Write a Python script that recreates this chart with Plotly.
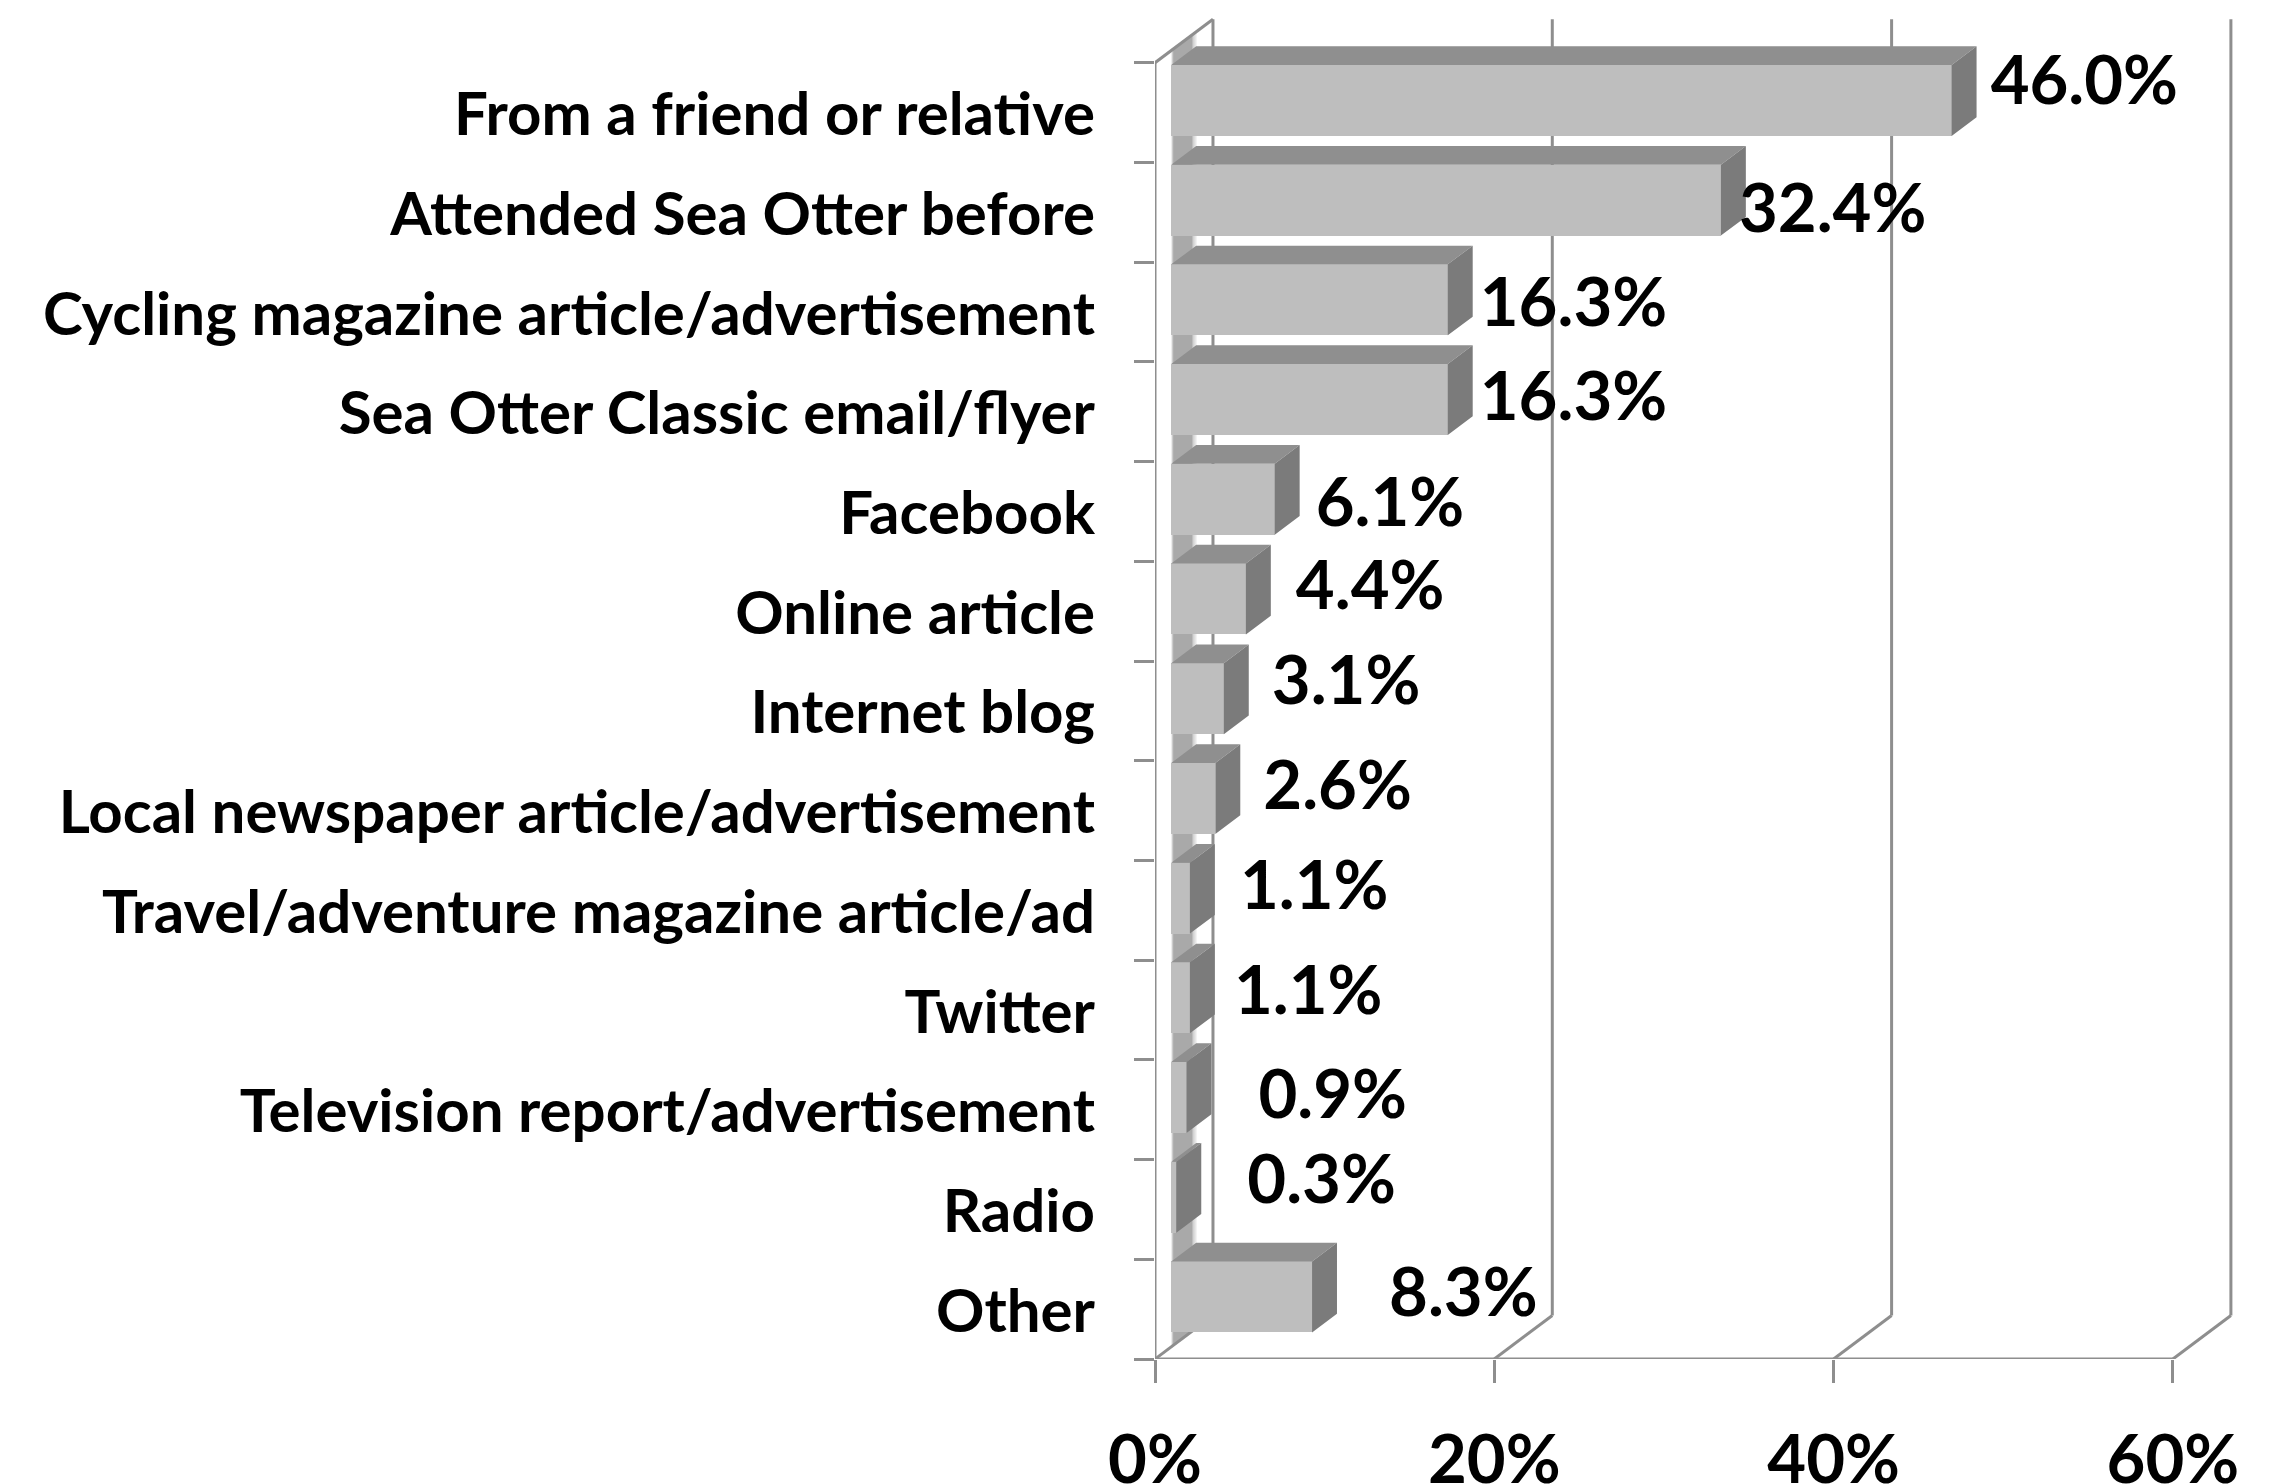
import plotly.graph_objects as go

categories = [
    "From a friend or relative", "Attended Sea Otter before",
    "Cycling magazine article/advertisement", "Sea Otter Classic email/flyer",
    "Facebook", "Online article", "Internet blog",
    "Local newspaper article/advertisement",
    "Travel/adventure magazine article/ad", "Twitter",
    "Television report/advertisement", "Radio", "Other",
]
values = [46.0, 32.4, 16.3, 16.3, 6.1, 4.4, 3.1, 2.6, 1.1, 1.1, 0.9, 0.3, 8.3]
x_ticks = [0, 20, 40, 60]

# Hand-placed value labels: pixel shift from the bar end and from the band centre
label_shift_x = [39, 18, 32, 32, 41, 50, 48, 48, 50, 44, 72, 71, 77]
label_shift_y = [-25, 3, -3, -8, -2, -19, -24, -18, -18, -13, -8, -23, -10]

FONT = "Lato"
LABEL_SIZE = 60
VALUE_SIZE = 67
LINE = "#8e8e8e"
FRONT, TOP, SIDE = "#bebebe", "#8f8f8f", "#7b7b7b"

# Plot frame in pixels and the scale of each axis
LEFT, FLOOR, RIGHT, UPPER = 1154.7, 1359.5, 2240, 10
PX_PCT, PX_BAND = 16.97, 99.75

# Oblique depth vector of the pseudo-3D box, in axis units
DX, DY = 58 / PX_PCT, 43.5 / PX_BAND
D0, D1 = 0.28, 0.71          # front and back of the bars along the depth
BAR_H = 71 / PX_BAND
n = len(categories)


def pt(v, b, d=0.0):
    """Project a value/band position at depth d onto the plane of the axes."""
    return v + d * DX, b - d * DY


def path(points):
    return "M" + " L".join(f"{x:.4f},{y:.4f}" for x, y in points) + " Z"


shapes = []


def wall_line(a, b):
    shapes.append(dict(type="line", layer="below", xref="x", yref="y",
                       x0=a[0], y0=a[1], x1=b[0], y1=b[1],
                       line=dict(color=LINE, width=3)))


# Soft grey strip where the bars meet the back wall
strip_steps = [
    (0.280, 0.290, "#ececec"), (0.290, 0.300, "#cfcfcf"), (0.300, 0.312, "#b6b6b6"),
    (0.312, 0.640, "#a9a9a9"), (0.640, 0.665, "#b8b8b8"), (0.665, 0.685, "#cdcdcd"),
    (0.685, 0.705, "#e2e2e2"), (0.705, 0.725, "#f3f3f3"),
]
for d0, d1, colour in strip_steps:
    poly = [pt(0, 0, d0), pt(0, 0, d1), pt(0, n, d1), pt(0, n, d0)]
    shapes.append(dict(type="path", layer="below", xref="x", yref="y", path=path(poly),
                       fillcolor=colour, line=dict(width=0)))

# Box frame: front edges, floor diagonals and gridlines on the back wall
wall_line(pt(0, n), pt(0, 0))
wall_line(pt(0, n), pt(x_ticks[-1], n))
wall_line(pt(0, 0), pt(0, 0, 1))
for t in x_ticks:
    wall_line(pt(t, n), pt(t, n, 1))
    wall_line(pt(t, n, 1), (pt(t, 0, 1)[0], pt(0, 0, 1)[1]))

band_centres = [i + 0.5 for i in range(n)]
band_edges = list(range(n + 1))
front_centres = [c - D0 * DY for c in band_centres]
# Category text sits a touch below the middle of its band
label_rows = [c + 1.5 / PX_BAND for c in band_centres]

fig = go.Figure()

# Front faces
fig.add_trace(go.Bar(
    orientation="h", x=values, y=front_centres, base=D0 * DX, width=BAR_H,
    marker=dict(color=FRONT, line=dict(width=0)), hoverinfo="skip", showlegend=False,
))


def face_trace(polys, colour):
    xs, ys = [], []
    for poly in polys:
        xs += [p[0] for p in poly] + [poly[0][0], None]
        ys += [p[1] for p in poly] + [poly[0][1], None]
    return go.Scatter(x=xs, y=ys, mode="lines", fill="toself", fillcolor=colour,
                      line=dict(width=0), hoverinfo="skip", showlegend=False)


# Top and end faces of every bar
tops, sides = [], []
for centre, v in zip(band_centres, values):
    upper, lower = centre - BAR_H / 2, centre + BAR_H / 2
    tops.append([pt(0, upper, D0), pt(v, upper, D0), pt(v, upper, D1), pt(0, upper, D1)])
    sides.append([pt(v, upper, D0), pt(v, lower, D0), pt(v, lower, D1), pt(v, upper, D1)])
fig.add_trace(face_trace(tops, TOP))
fig.add_trace(face_trace(sides, SIDE))

# Value labels
fig.add_trace(go.Scatter(
    x=[v + D0 * DX + dx / PX_PCT for v, dx in zip(values, label_shift_x)],
    y=[c + dy / PX_BAND for c, dy in zip(band_centres, label_shift_y)],
    mode="text", text=[f"{v:.1f}%" for v in values], textposition="middle right",
    textfont=dict(family=FONT, size=VALUE_SIZE, color="#000000", weight="bold"),
    hoverinfo="skip", showlegend=False, cliponaxis=False,
))

fig.update_layout(
    width=2295, height=1484, autosize=False,
    paper_bgcolor="#ffffff", plot_bgcolor="#ffffff",
    margin=dict(l=LEFT, r=2295 - RIGHT, t=UPPER, b=1484 - FLOOR, pad=0),
    bargap=0, shapes=shapes, showlegend=False,
    xaxis=dict(
        range=[0, (RIGHT - LEFT) / PX_PCT], showgrid=False, zeroline=False, showline=False,
        automargin=False,
        tickmode="array", tickvals=x_ticks, ticktext=[f"{t}%" for t in x_ticks],
        ticks="outside", ticklen=23, tickwidth=2.5, tickcolor=LINE, ticklabelstandoff=20,
        tickfont=dict(family=FONT, size=VALUE_SIZE, color="#000000", weight="bold"),
    ),
    yaxis=dict(
        range=[n, -(FLOOR - UPPER) / PX_BAND + n], showgrid=False, zeroline=False, showline=False,
        automargin=False,
        tickmode="array", tickvals=label_rows, ticktext=categories,
        ticks="", ticklabelstandoff=59,
        tickfont=dict(family=FONT, size=LABEL_SIZE, color="#000000", weight="bold"),
        minor=dict(tickmode="array", tickvals=band_edges, ticks="outside",
                   ticklen=20, tickwidth=2.5, tickcolor=LINE),
    ),
)

fig.write_html("out.html")
